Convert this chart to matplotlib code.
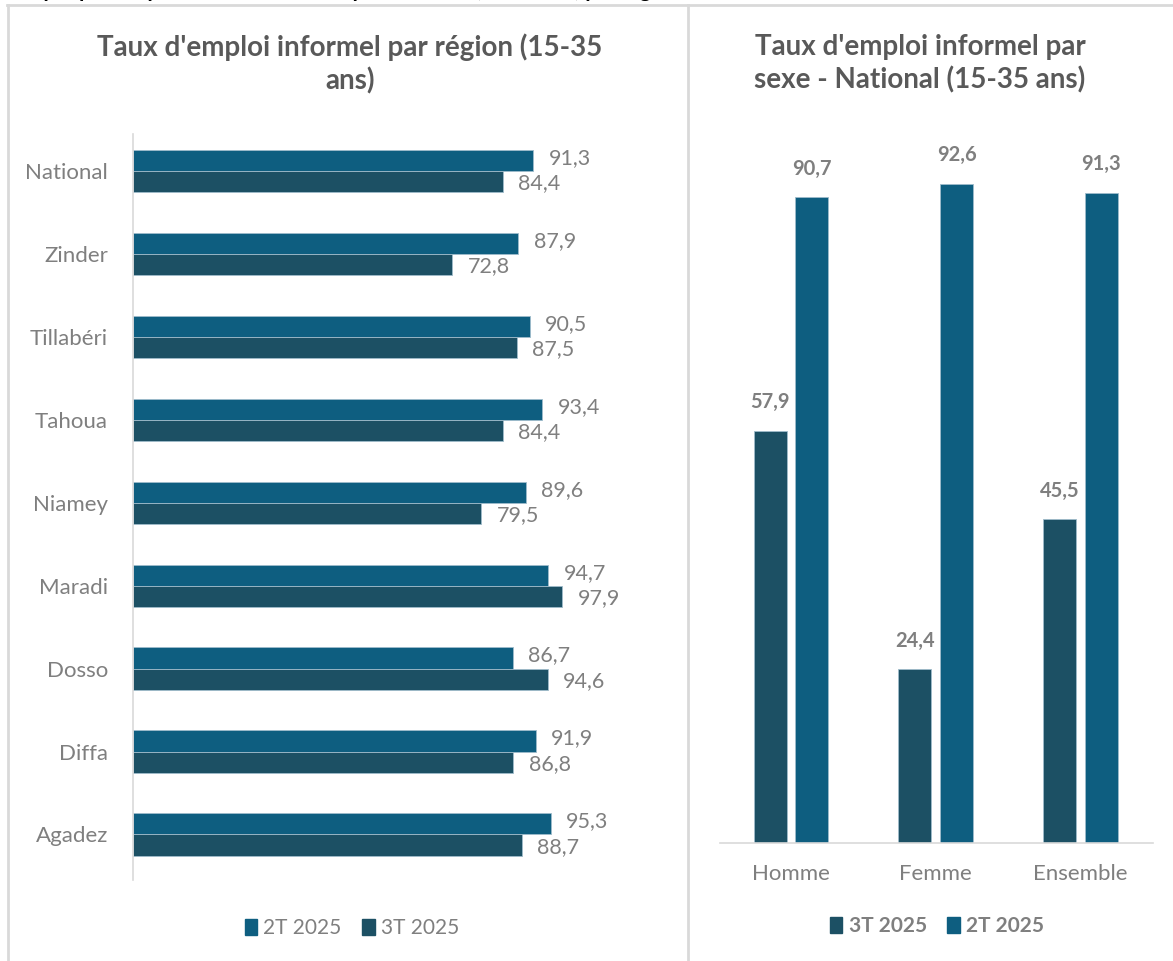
import matplotlib
matplotlib.use("Agg")
import matplotlib.pyplot as plt
import numpy as np
from matplotlib.lines import Line2D
from matplotlib.patches import Patch

plt.rcParams["font.family"] = ["Lato", "DejaVu Sans"]

REGIONS = ["Agadez", "Diffa", "Dosso", "Maradi", "Niamey", "Tahoua", "Tillabéri", "Zinder", "National"]
REG_2T = [95.3, 91.9, 86.7, 94.7, 89.6, 93.4, 90.5, 87.9, 91.3]
REG_3T = [88.7, 86.8, 94.6, 97.9, 79.5, 84.4, 87.5, 72.8, 84.4]

SEXES = ["Homme", "Femme", "Ensemble"]
SEX_3T = [57.9, 24.4, 45.5]
SEX_2T = [90.7, 92.6, 91.3]

C2 = "#0e5e80"
C3 = "#1c5064"
GREY = "#7f7f7f"
TITLE = "#595959"
EDGE = "#9fbccb"

W, H = 1173, 961
fig = plt.figure(figsize=(W / 100, H / 100), dpi=100)

def fx(px):
    return px / W

def fy(py):
    return 1 - py / H

def fr(v):
    return f"{v:.1f}".replace(".", ",")

# panel borders
border = "#d9d9d9"
fig.add_artist(Line2D([fx(7), 1], [fy(5), fy(5)], color=border, lw=2))
fig.add_artist(Line2D([fx(8), fx(8)], [fy(5), 0], color=border, lw=2))
fig.add_artist(Line2D([fx(688), fx(688)], [fy(5), 0], color=border, lw=2))

# page caption, cut off by the top edge as in the source
fig.text(fx(10), fy(-3), "Graphique : Répartition du taux d'emploi informel (15-35 ans) par région et sexe",
         fontsize=15, fontweight="bold", color="black", va="baseline", ha="left")

# ---- left: horizontal bars by region
ax = fig.add_axes([fx(133), fy(880), fx(526), 746 / H])
y = np.arange(len(REGIONS))
h = 0.255
ax.barh(y + h / 2, REG_2T, h, color=C2, edgecolor=EDGE, lw=0.6, label="2T 2025")
ax.barh(y - h / 2, REG_3T, h, color=C3, edgecolor=EDGE, lw=0.6, label="3T 2025")
for i in range(len(REGIONS)):
    ax.text(REG_2T[i] + 3.5, y[i] + h / 2 + 0.03, fr(REG_2T[i]),
            va="center", ha="left", fontsize=15.5, color=GREY)
    ax.text(REG_3T[i] + 3.5, y[i] - h / 2 - 0.02, fr(REG_3T[i]),
            va="center", ha="left", fontsize=15.5, color=GREY)
ax.set_xlim(0, 120)
ax.set_ylim(-0.55, 8.45)
ax.set_yticks(y)
ax.set_yticklabels(REGIONS, fontsize=16, color=GREY)
ax.tick_params(axis="y", length=0, pad=18)
ax.set_xticks([])
for s in ["top", "right", "bottom"]:
    ax.spines[s].set_visible(False)
ax.spines["left"].set_color("#d9d9d9")
ax.spines["left"].set_linewidth(1.2)

fig.text(fx(350), fy(64), "Taux d'emploi informel par région (15-35\nans)", ha="center", va="center",
         fontsize=20, fontweight="bold", color=TITLE, linespacing=1.3)
fig.legend(handles=[Patch(color=C2, label="2T 2025"), Patch(color=C3, label="3T 2025")],
           loc="center", bbox_to_anchor=(fx(352), fy(928)), ncol=2, frameon=False,
           fontsize=15, labelcolor=GREY, handlelength=0.6, handleheight=0.8,
           handletextpad=0.3, columnspacing=1.0)

# ---- right: vertical bars by sex
ax2 = fig.add_axes([fx(720), fy(843), fx(433), 712 / H])
x = np.arange(len(SEXES))
w = 0.228
ax2.bar(x - w / 2 - 0.03, SEX_3T, w, color=C3, edgecolor=EDGE, lw=0.6)
ax2.bar(x + w / 2 + 0.03, SEX_2T, w, color=C2, edgecolor=EDGE, lw=0.6)
for i in range(len(SEXES)):
    ax2.text(x[i] - w / 2 - 0.03, SEX_3T[i] + 2.6, fr(SEX_3T[i]),
             ha="center", va="bottom", fontsize=14.5, fontweight="bold", color=GREY)
    ax2.text(x[i] + w / 2 + 0.03, SEX_2T[i] + 2.6, fr(SEX_2T[i]),
             ha="center", va="bottom", fontsize=14.5, fontweight="bold", color=GREY)
ax2.set_xlim(-0.49, 2.5)
ax2.set_ylim(0, 100)
ax2.set_xticks(x)
ax2.set_xticklabels(SEXES, fontsize=16, color=GREY)
ax2.tick_params(axis="x", length=0, pad=15)
ax2.set_yticks([])
for s in ["top", "right", "left"]:
    ax2.spines[s].set_visible(False)
ax2.spines["bottom"].set_color("#d9d9d9")
ax2.spines["bottom"].set_linewidth(1.2)

fig.text(fx(920), fy(64), "Taux d'emploi informel par\nsexe - National (15-35 ans)", ha="center", va="center",
         fontsize=20, fontweight="bold", color=TITLE, linespacing=1.3)
fig.legend(handles=[Patch(color=C3, label="3T 2025"), Patch(color=C2, label="2T 2025")],
           loc="center", bbox_to_anchor=(fx(937), fy(926)), ncol=2, frameon=False,
           prop={"size": 15, "weight": "bold"}, labelcolor=GREY, handlelength=0.6, handleheight=0.8,
           handletextpad=0.3, columnspacing=1.0)

fig.savefig("out.png", dpi=100)
